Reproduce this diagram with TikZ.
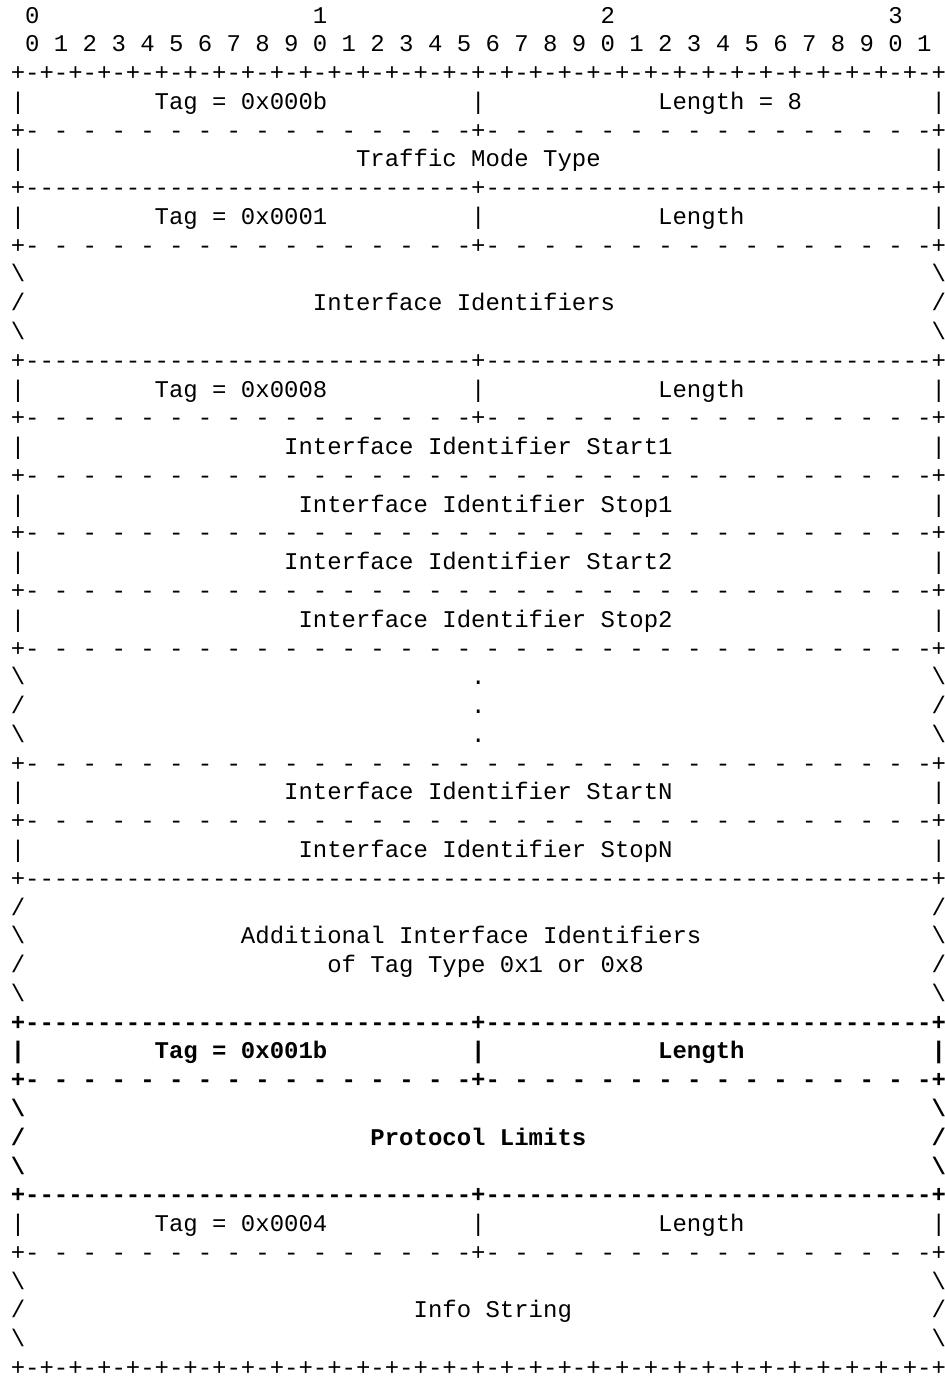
\documentclass[tikz,border=0pt]{standalone}
\usepackage{fontspec}
\setmonofont{Liberation Mono}
\newcommand\pmx{+-+-+-+-+-+-+-+-}
\newcommand\plusrow{\pmx\pmx\pmx\pmx+}
\newcommand\dashx{----------}
\newcommand\solidrun{\dashx\dashx\dashx-}
\newcommand\halfrun{- - - - - - - - - - - - - - - -}
\newcommand\bs{\textbackslash}
\newcommand\fs{/}

\begin{document}
\begin{tikzpicture}[x={(7.2pt,0)},y={(0,-14.4pt)},
  rfc/.style={anchor=base west,inner sep=0pt,outer sep=0pt,font=\ttfamily\fontsize{12pt}{14pt}\selectfont},
  rfcbold/.style={rfc,font=\ttfamily\bfseries\fontsize{12pt}{14pt}\selectfont}]
\useasboundingbox (-0.75,0.2) rectangle (64.875,48.09);
% Bit ruler
\foreach \d in {0,...,3}
  \node[rfc] (dec\d) at ({1+20*\d},1) {\d};
\foreach \b in {0,...,31} {
  \pgfmathtruncatemacro\u{mod(\b,10)}
  \node[rfc] (bit\b) at ({2*\b+1},2) {\u};
}
\node[rfc] (top) at (0,3) {\plusrow};
\node[rfc] (bottom) at (0,48) {\plusrow};
% Separators
\foreach \r in {7,13}
  \node[rfc] (solid\r) at (0,\r) {+\solidrun+\solidrun+};
\node[rfc] (solid31) at (0,31) {+\solidrun-\solidrun+};
\foreach \r in {5,9,15,44}
  \node[rfc] (half\r) at (0,\r) {+\halfrun+\halfrun+};
\foreach \r in {17,19,21,23,27,29}
  \node[rfc] (half\r) at (0,\r) {+\halfrun\ \halfrun+};
% Box edges
\foreach \r in {4,6,8,14,16,18,20,22,28,30,43} {
  \node[rfc] (lft\r) at (0,\r) {|};
  \node[rfc] (rgt\r) at (64,\r) {|};
}
\foreach \r in {4,8,14,43}
  \node[rfc] (mid\r) at (32,\r) {|};
\foreach \r/\s in {10/\bs,11/\fs,12/\bs,24/\bs,25/\fs,26/\bs,32/\fs,33/\bs,34/\fs,35/\bs,45/\bs,46/\fs,47/\bs} {
  \node[rfc] (lft\r) at (0,\r) {\s};
  \node[rfc] (rgt\r) at (64,\r) {\s};
}
% Fields
\node[rfc] (tagB) at (10,4) {Tag = 0x000b};
\node[rfc] (lenB) at (45,4) {Length = 8};
\node[rfc] (mode) at (24,6) {Traffic Mode Type};
\node[rfc] (tagI) at (10,8) {Tag = 0x0001};
\node[rfc] (lenI) at (45,8) {Length};
\node[rfc] (ifids) at (21,11) {Interface Identifiers};
\node[rfc] (tagR) at (10,14) {Tag = 0x0008};
\node[rfc] (lenR) at (45,14) {Length};
\node[rfc] (start1) at (19,16) {Interface Identifier Start1};
\node[rfc] (stop1) at (20,18) {Interface Identifier Stop1};
\node[rfc] (start2) at (19,20) {Interface Identifier Start2};
\node[rfc] (stop2) at (20,22) {Interface Identifier Stop2};
\foreach \r in {24,25,26}
  \node[rfc] (dot\r) at (32,\r) {.};
\node[rfc] (startN) at (19,28) {Interface Identifier StartN};
\node[rfc] (stopN) at (20,30) {Interface Identifier StopN};
\node[rfc] (addA) at (16,33) {Additional Interface Identifiers};
\node[rfc] (addB) at (22,34) {of Tag Type 0x1 or 0x8};
% Protocol limits (bold)
\foreach \r in {36,42}
  \node[rfcbold] (solid\r) at (0,\r) {+\solidrun+\solidrun+};
\node[rfcbold] (half38) at (0,38) {+\halfrun+\halfrun+};
\node[rfcbold] (lft37) at (0,37) {|};
\node[rfcbold] (mid37) at (32,37) {|};
\node[rfcbold] (rgt37) at (64,37) {|};
\foreach \r/\s in {39/\bs,40/\fs,41/\bs} {
  \node[rfcbold] (lft\r) at (0,\r) {\s};
  \node[rfcbold] (rgt\r) at (64,\r) {\s};
}
\node[rfcbold] (tagP) at (10,37) {Tag = 0x001b};
\node[rfcbold] (lenP) at (45,37) {Length};
\node[rfcbold] (limits) at (25,40) {Protocol Limits};
% Info string
\node[rfc] (tagS) at (10,43) {Tag = 0x0004};
\node[rfc] (lenS) at (45,43) {Length};
\node[rfc] (info) at (28,46) {Info String};
\end{tikzpicture}
\end{document}
